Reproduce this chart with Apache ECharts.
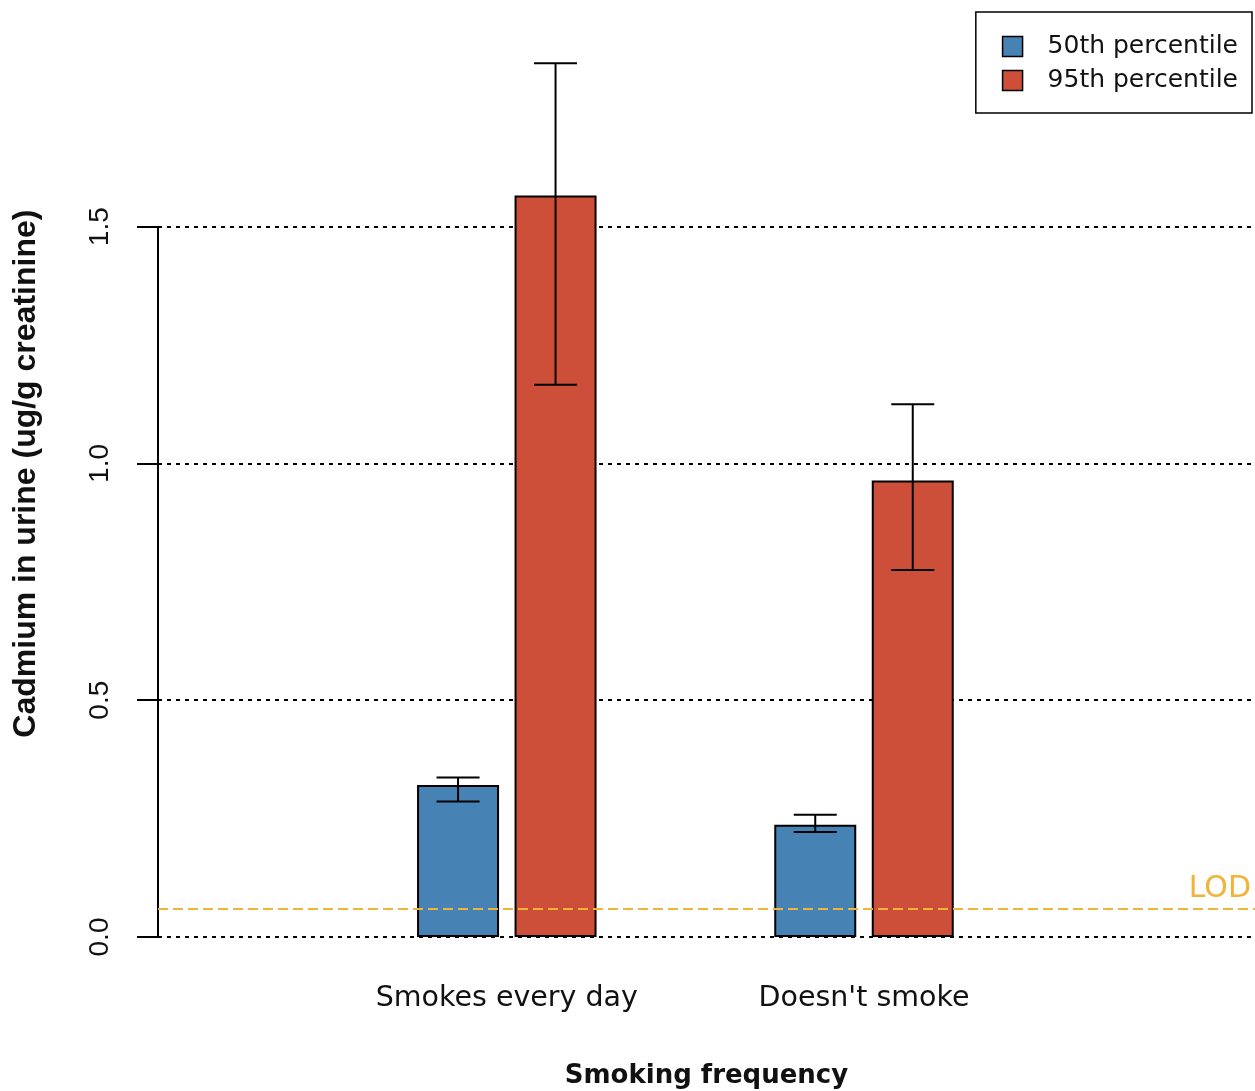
<!DOCTYPE html>
<html>
<head>
<meta charset="utf-8">
<script src="https://cdn.jsdelivr.net/npm/echarts@6/dist/echarts.min.js"></script>
<style>html,body{margin:0;padding:0;background:#fff}#c{width:1255px;height:1091px}</style>
</head>
<body>
<div id="c"></div>
<script>
// ---- data ----
const categories = ["Smokes every day", "Doesn't smoke"];
const seriesNames = ["50th percentile", "95th percentile"];
const p50 = [0.321, 0.237];
const p95 = [1.566, 0.964];
const p50Low = [0.286, 0.222];
const p50High = [0.337, 0.258];
const p95Low = [1.166, 0.775];
const p95High = [1.845, 1.125];
const yTickValues = [0, 0.5, 1.0, 1.5];
const lodValue = 0.062;
const lodLabel = "LOD";
const xTitle = "Smoking frequency";
const yTitle = "Cadmium in urine (ug/g creatinine)";

// ---- layout / style ----
const H = 1091;
const y0 = 937;          // pixel of value 0
const top0 = 226.7;      // pixel of top tick
const axisMax0 = yTickValues[yTickValues.length - 1];
const axisMax1 = 1.9;
const top1 = y0 - (y0 - top0) * axisMax1 / axisMax0;
const BAR_W = 82, GAP = 15.5, CAP = 43;
const BLUE = '#4682B4', RED = '#CD4F39', LODC = '#F0B43A';

function errSeries(lows, highs, sign) {
  return {
    type: 'custom', xAxisIndex: 1, yAxisIndex: 1, z: 5, silent: true,
    data: categories.map((c, i) => [i, lows[i], highs[i]]),
    renderItem: (params, api) => {
      const off = sign * (BAR_W + GAP) / 2;
      const lo = api.coord([api.value(0), api.value(1)]);
      const hi = api.coord([api.value(0), api.value(2)]);
      const x = lo[0] + off, c = CAP / 2;
      const st = { stroke: '#000', lineWidth: 2 };
      return { type: 'group', children: [
        { type: 'line', shape: { x1: x, y1: hi[1], x2: x, y2: lo[1] }, style: st },
        { type: 'line', shape: { x1: x - c, y1: hi[1], x2: x + c, y2: hi[1] }, style: st },
        { type: 'line', shape: { x1: x - c, y1: lo[1], x2: x + c, y2: lo[1] }, style: st }
      ]};
    }
  };
}

const chart = echarts.init(document.getElementById('c'));
chart.setOption({
  animation: false,
  textStyle: { fontFamily: 'Liberation Sans' },
  grid: [
    { left: 158, right: 0, top: top0, bottom: H - y0, outerBoundsMode: 'none' },
    { left: 328.2, right: 212.4, top: top1, bottom: H - y0, outerBoundsMode: 'none' }
  ],
  legend: {
    data: seriesNames, orient: 'vertical', right: 3, top: 12,
    borderColor: '#000', borderWidth: 1.5, padding: [22, 14, 20, 26],
    itemWidth: 20, itemHeight: 20, itemGap: 9, icon: 'rect', selectedMode: false,
    itemStyle: { borderColor: '#000', borderWidth: 1.5 },
    textStyle: { fontFamily: 'DejaVu Sans', fontSize: 25, color: '#111', padding: [0, 0, 0, 20] }
  },
  xAxis: [
    { gridIndex: 0, type: 'value', min: 0, max: 1,
      axisLine: { show: false }, axisTick: { show: false }, axisLabel: { show: false }, splitLine: { show: false },
      name: xTitle, nameLocation: 'middle', nameGap: 126,
      nameTextStyle: { fontFamily: 'DejaVu Sans', fontWeight: 'bold', fontSize: 26, color: '#111' } },
    { gridIndex: 1, type: 'category', data: categories,
      axisLine: { show: false }, axisTick: { show: false }, splitLine: { show: false },
      axisLabel: { interval: 0, margin: 47, fontFamily: 'DejaVu Sans', fontSize: 28.5, color: '#111' } }
  ],
  yAxis: [
    { gridIndex: 0, type: 'value', min: 0, max: axisMax0, interval: 0.5,
      axisLine: { show: true, lineStyle: { color: '#000', width: 2 } },
      axisTick: { show: true, length: 21, lineStyle: { color: '#000', width: 2 } },
      axisLabel: { rotate: 90, margin: 44, fontSize: 28, color: '#111', formatter: v => v.toFixed(1) },
      splitLine: { show: true, lineStyle: { color: '#000', width: 2, type: [4, 5] } } },
    { gridIndex: 1, type: 'value', min: 0, max: axisMax1,
      axisLine: { show: false }, axisTick: { show: false }, axisLabel: { show: false }, splitLine: { show: false },
      name: yTitle, nameLocation: 'middle', nameGap: 286,
      nameTextStyle: { fontWeight: 'bold', fontSize: 32, color: '#111', padding: [0, 0, 0, 27] } }
  ],
  series: [
    { name: seriesNames[0], type: 'bar', xAxisIndex: 1, yAxisIndex: 1, data: p50, z: 2,
      barWidth: BAR_W, barGap: (GAP / BAR_W * 100) + '%',
      itemStyle: { color: BLUE, borderColor: '#000', borderWidth: 2 } },
    { name: seriesNames[1], type: 'bar', xAxisIndex: 1, yAxisIndex: 1, data: p95, z: 2,
      barWidth: BAR_W, barGap: (GAP / BAR_W * 100) + '%',
      itemStyle: { color: RED, borderColor: '#000', borderWidth: 2 } },
    errSeries(p50Low, p50High, -1),
    errSeries(p95Low, p95High, 1),
    { type: 'line', xAxisIndex: 0, yAxisIndex: 0, data: [], z: 10, silent: true,
      markLine: { symbol: 'none', silent: true, animation: false,
        lineStyle: { color: LODC, width: 2, type: [10, 5] },
        label: { show: true, position: 'insideEndTop', formatter: lodLabel, color: LODC,
                 fontFamily: 'DejaVu Sans', fontSize: 30, distance: [4, 4] },
        data: [{ yAxis: lodValue }] } }
  ]
});
</script>
</body>
</html>
